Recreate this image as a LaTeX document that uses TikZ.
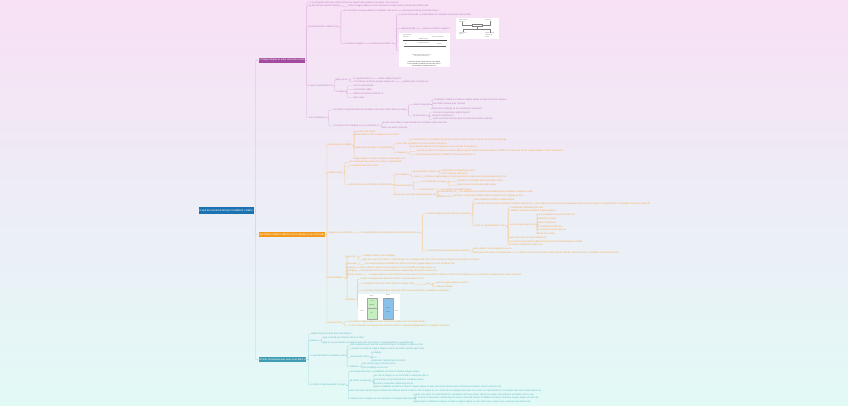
\documentclass[tikz,border=0pt]{standalone}
\usepackage{fontspec}
\setmainfont{Liberation Sans}
\usepackage{xstring}
\definecolor{bgtop}{HTML}{F8E0F5}
\definecolor{bgmid}{HTML}{EFEFF6}
\definecolor{bgbot}{HTML}{E2FAF6}
\definecolor{rootc}{HTML}{1B72B2}
\definecolor{purc}{HTML}{A24B9E}
\definecolor{orac}{HTML}{F39A1B}
\definecolor{tealc}{HTML}{3F9DB3}
\definecolor{purt}{HTML}{BC7FBC}
\definecolor{purl}{HTML}{DDB0DD}
\definecolor{orat}{HTML}{F2AC55}
\definecolor{oral}{HTML}{F6CD98}
\definecolor{tealt}{HTML}{63B9C4}
\definecolor{teall}{HTML}{A3DAE0}
\definecolor{imgreen}{HTML}{C6EFC0}
\definecolor{imblue}{HTML}{8BC1E8}
\def\lorem{lorem ipsum dolor sit amet consectetur adipiscing elit sed do eiusmod tempor incididunt ut labore et dolore magna aliqua ut enim ad minim veniam quis nostrud exercitation ullamco laboris nisi ut aliquip ex ea commodo consequat duis aute irure dolor in reprehenderit in voluptate velit esse cillum dolore eu fugiat nulla pariatur excepteur sint occaecat cupidatat non proident sunt in culpa qui officia deserunt mollit anim id est laborum}
\newcount\loff
\newcommand\ft[1]{\pgfmathtruncatemacro\nch{max(2,#1/1.0)}\global\advance\loff 53\relax\ifnum\loff>270 \global\advance\loff -270\relax\fi\StrMid{\lorem}{\the\loff}{\the\numexpr\loff+\nch-1\relax}}
\tikzset{
 tx/.style={anchor=west, inner sep=0.3pt, font=\fontsize{2.4}{2.8}\selectfont},
 ln/.style={line width=0.35pt, rounded corners=0.8pt},
 brn/.style={anchor=west, inner sep=0pt, text=white, font=\fontsize{2.6}{3}\selectfont, minimum height=5.2pt},
 imgbox/.style={fill=white, inner sep=0pt, anchor=north west},
 imt/.style={inner sep=0pt, font=\fontsize{1.5}{1.8}\selectfont, text=black!55},
}
\newcommand\T[4]{\node[tx] (#1) at (#2,#3) {\ft{#4}};}
\newcommand\C[2]{\foreach \cc in {#2}{\draw[ln] (#1.east) -- ++(2,0) |- (\cc.west);}}
\begin{document}
\begin{tikzpicture}[x=1pt,y=-1pt]
\useasboundingbox (0,0) rectangle (848,406);
\shade[top color=bgtop, middle color=bgmid, bottom color=bgbot] (0,0) rectangle (848,406);

% root and branches
\node[brn, fill=rootc, minimum width=55pt, minimum height=6.6pt, font=\fontsize{2.8}{3.2}\selectfont] (R) at (198.3,210.7) {\ft{43}};
\node[brn, fill=purc, minimum width=45pt] (P) at (258.3,60.3) {\ft{38}};
\node[brn, fill=orac, minimum width=65pt] (O) at (258.3,234.8) {\ft{58}};
\node[brn, fill=tealc, minimum width=46pt] (T) at (258.3,359.8) {\ft{40}};
\draw[ln, draw=purl] (R.east) -- ++(2,0) |- (P.west);
\draw[ln, draw=oral] (R.east) -- ++(2,0) |- (O.west);
\draw[ln, draw=teall] (R.east) -- ++(2,0) |- (T.west);

% ---------------- purple branch
\begin{scope}[tx/.append style={text=purt}, ln/.append style={draw=purl}]
\T{p1}{310}{2.7}{87}
\T{p2}{308}{6.3}{29}
\T{p2x}{347}{6.3}{75}
\T{p3}{308}{27}{29}
\T{p3a}{343}{10.7}{17}
\T{p3ax}{367}{10.7}{30}
\T{p3ay}{402}{10.7}{33}
\T{p3b}{343}{44}{20}
\T{p3bx}{368}{44}{25}
\T{q1}{399}{14.7}{16}
\T{q1x}{422}{14.7}{48}
\T{q2}{399}{28.7}{18}
\T{q2x}{422}{28.7}{25}
\node[imgbox, minimum width=51pt, minimum height=34pt] (im2) at (399,33) {};
\node[imgbox, minimum width=43pt, minimum height=21pt] (im1) at (456,18) {};
\T{p4}{308}{86}{22}
\T{p4a}{335}{80}{12}
\T{p4ai}{353}{78.7}{19}
\T{p4aix}{378}{78.7}{24}
\T{p4aii}{353}{82}{40}
\T{p4aiix}{402}{82}{23}
\T{p4b}{335}{91.7}{10}
\T{p4bi}{353}{86}{19}
\T{p4bii}{353}{89.7}{17}
\T{p4biii}{353}{93.7}{29}
\T{p4biv}{353}{97.3}{10}
\T{p5}{308}{118}{19}
\T{p5a}{333}{110}{72}
\T{p5ai}{413}{104.7}{14}
\T{r1}{432}{100}{70}
\T{r2}{432}{104.3}{30}
\T{r3}{432}{108.7}{46}
\T{p5aii}{413}{116}{15}
\T{r4}{432}{112.7}{38}
\T{r5}{432}{116}{20}
\T{r6}{432}{119.3}{56}
\T{p5b}{333}{126}{43}
\T{r7}{382}{123.3}{66}
\T{r8}{382}{128}{23}
\C{P}{p1,p2,p3,p4,p5}
\C{p2}{p2x}
\C{p3}{p3a,p3b}
\C{p3a}{p3ax}
\C{p3ax}{p3ay}
\C{p3b}{p3bx}
\C{p3bx}{q1,q2,im2}
\C{q1}{q1x}
\C{q2}{q2x}
\C{p4}{p4a,p4b}
\C{p4a}{p4ai,p4aii}
\C{p4ai}{p4aix}
\C{p4aii}{p4aiix}
\C{p4b}{p4bi,p4bii,p4biii,p4biv}
\C{p5}{p5a,p5b}
\C{p5a}{p5ai,p5aii}
\C{p5ai}{r1,r2,r3}
\C{p5aii}{r4,r5,r6}
\C{p5b}{r7,r8}
\end{scope}

% image 1 contents
\node[imt, anchor=west] (i1a) at (459,19.8) {lorem ipsum};
\node[imt, anchor=west] (i1b) at (459,21.6) {dolor sit};
\node[imt, anchor=west] (i1c) at (485,20) {amet elit};
\node[imt, draw=black!50, line width=0.2pt, inner sep=0.5pt] (i1d) at (477,25) {sed do tempor};
\node[imt, anchor=west] (i1e) at (459,32.5) {ut labore et};
\node[imt, anchor=west] (i1f) at (459,34.3) {dolore};
\node[imt, anchor=west] (i1g) at (485,33.5) {magna aliqua};
\node[imt, anchor=west] (i1h) at (485,35.3) {ut enim ad};
\node[imt, anchor=west] (i1i) at (485,37.1) {minim};
\draw[black!50, line width=0.2pt] (i1b.south) |- (i1d.west);
\draw[black!50, line width=0.2pt] (i1d.east) -| (490,21.5);
\draw[black!50, line width=0.2pt] (i1d.south) -- ++(0,2.5) -| (i1e.north);
\draw[black!50, line width=0.2pt] (i1d.south) ++(0,2.5) -| (i1g.north);

% image 2 contents
\node[imt, anchor=west] (i2a) at (403,35.3) {lorem ipsum};
\node[imt, anchor=west] (i2b) at (403,37.3) {dolor sit};
\node[imt, anchor=west] (i2c) at (432,37.5) {amet consectetur};
\node[imt] (i2d) at (423.5,38.7) {adipiscing elit};
\draw[black!75, line width=0.5pt] (403,40.7) -- (447,40.7);
\node[imt] (i2e) at (423.5,43.3) {sed do eiusmod};
\node[imt, anchor=west] (i2f) at (405,44.3) {ut};
\node[imt, anchor=west] (i2g) at (437,44.3) {labore};
\draw[black!60, line width=0.3pt] (404,45.7) -- (446,45.7);
\node[imt] (i2h) at (421.5,54.7) {dolore magna aliqua ut enim};
\node[imt] (i2i) at (421.5,56.6) {ad minim veniam quis};
\node[imt, text=black!85] (i2j) at (424,62.2) {nostrud exercitation ullamco laboris nisi ut aliquip};
\node[imt, text=black!85] (i2k) at (424,64) {ex ea commodo consequat duis aute irure dolor in};
\node[imt, text=black!85] (i2l) at (424,65.8) {reprehenderit in voluptate velit esse};

% ---------------- orange branch
\begin{scope}[tx/.append style={text=orat}, ln/.append style={draw=oral}]
\T{o1}{327}{145.3}{21}
\T{o1a}{353}{132}{20}
\T{o1b}{353}{135.3}{43}
\T{o1c}{353}{148}{37}
\T{o1ci}{396}{143.7}{9}
\T{s1}{410}{139.7}{87}
\T{s2}{410}{143.7}{33}
\T{s3}{410}{147.3}{62}
\T{o1cii}{396}{153}{9}
\T{s4}{416}{151.3}{137}
\T{s5}{416}{154.7}{54}
\T{o1d}{353}{158.7}{45}
\T{o2}{327}{173}{15}
\T{o2a}{349}{162.3}{49}
\T{o2b}{349}{166.3}{29}
\T{o2c}{349}{184.7}{40}
\T{u1}{394}{175.3}{13}
\T{u1a}{413}{171.3}{22}
\T{u1ai}{441}{170.7}{29}
\T{u1aii}{441}{174}{27}
\T{u1b}{413}{177.3}{7}
\T{u1bx}{424}{177.3}{76}
\T{u2}{394}{185.3}{16}
\T{u2a}{420}{182}{20}
\T{u2ai}{457}{181.3}{45}
\T{u2aii}{457}{185.3}{37}
\T{u2b}{420}{189.3}{13}
\T{u2bx}{440}{189.3}{30}
\T{u3}{394}{194.7}{36}
\T{u3a}{436}{192.3}{19}
\T{u3ax}{460}{192.3}{70}
\T{u3b}{436}{196.3}{14}
\T{u3bx}{453}{196.3}{69}
\T{o3}{327}{233}{22}
\T{o3x}{360}{233}{60}
\T{v1}{426}{214}{42}
\T{v1a}{474}{199.7}{38}
\T{v1b}{474}{204}{56}
\T{v1bx}{535}{204}{110}
\T{v1c}{474}{226.3}{31}
\T{w1}{509}{208}{33}
\T{w2}{509}{211.3}{44}
\T{w3}{509}{224.7}{23}
\T{z1}{536}{215.3}{36}
\T{z2}{536}{219}{20}
\T{z3}{536}{223}{18}
\T{z4}{536}{226.7}{26}
\T{z5}{536}{230.3}{26}
\T{z6}{536}{234}{20}
\T{w4}{509}{238}{36}
\T{w5}{509}{242}{69}
\T{w6}{509}{245.3}{32}
\T{v2}{426}{251.3}{39}
\T{v2a}{473}{248.7}{37}
\T{v2b}{473}{252.7}{37}
\T{v2bx}{517}{252.7}{98}
\T{o4}{327}{278.3}{15}
\T{o4a}{345}{257.3}{10}
\T{o4ai}{362}{256}{33}
\T{o4aii}{362}{260}{116}
\T{o4b}{345}{264.3}{10}
\T{o4bx}{364}{264.3}{83}
\T{o4c}{345}{267.7}{10}
\T{o4cx}{360}{267.7}{70}
\T{o4d}{345}{271.3}{10}
\T{o4dx}{360}{271.3}{72}
\T{o4e}{345}{275}{15}
\T{o4ex}{368}{275}{142}
\T{o4f}{345}{299.3}{10}
\T{o4fi}{360}{279.3}{60}
\T{o4fii}{360}{284.3}{55}
\T{o4fiix}{425}{284.3}{5}
\T{o4fiia}{436}{283.3}{29}
\T{o4fiib}{436}{286.7}{16}
\T{o4fiii}{360}{290.7}{65}
\T{o4fiiix}{430}{290.7}{20}
\node[imgbox, minimum width=42pt, minimum height=26pt] (im3) at (358,294) {};
\T{o5}{327}{323.3}{15}
\T{o5a}{348}{321.7}{62}
\T{o5ax}{415}{321.7}{10}
\T{o5b}{348}{326}{62}
\T{o5bx}{415}{326}{35}
\C{O}{o1,o2,o3,o4,o5}
\C{o1}{o1a,o1b,o1c,o1d}
\C{o1c}{o1ci,o1cii}
\C{o1ci}{s1,s2,s3}
\C{o1cii}{s4,s5}
\C{o2}{o2a,o2b,o2c}
\C{o2c}{u1,u2,u3}
\C{u1}{u1a,u1b}
\C{u1a}{u1ai,u1aii}
\C{u1b}{u1bx}
\C{u2}{u2a,u2b}
\C{u2a}{u2ai,u2aii}
\C{u2b}{u2bx}
\C{u3}{u3a,u3b}
\C{u3a}{u3ax}
\C{u3b}{u3bx}
\C{o3}{o3x}
\C{o3x}{v1,v2}
\C{v1}{v1a,v1b,v1c}
\C{v1b}{v1bx}
\C{v1c}{w1,w2,w3,w4,w5,w6}
\C{w3}{z1,z2,z3,z4,z5,z6}
\C{v2}{v2a,v2b}
\C{v2b}{v2bx}
\C{o4}{o4a,o4b,o4c,o4d,o4e,o4f}
\C{o4a}{o4ai,o4aii}
\C{o4b}{o4bx}
\C{o4c}{o4cx}
\C{o4d}{o4dx}
\C{o4e}{o4ex}
\C{o4f}{o4fi,o4fii,o4fiii,im3}
\C{o4fii}{o4fiix}
\C{o4fiix}{o4fiia,o4fiib}
\C{o4fiii}{o4fiiix}
\C{o5}{o5a,o5b}
\C{o5a}{o5ax}
\C{o5b}{o5bx}
\end{scope}

% image 3 contents
\filldraw[fill=imgreen, draw=black!35, line width=0.25pt] (366.7,297.7) rectangle (376.7,319.3);
\draw[black!35, line width=0.25pt] (366.7,308) -- (376.7,308);
\filldraw[fill=imblue, draw=black!35, line width=0.25pt] (382.7,297.7) rectangle (393.3,319.3);
\node[imt] (i3a) at (371.7,295.6) {lorem};
\node[imt] (i3b) at (388,295.6) {ipsum};
\node[imt] (i3c) at (362.3,310.7) {dolor};
\node[imt] (i3d) at (396.5,310.7) {amet};
\node[imt, text=black!70] (i3e) at (371.7,301.3) {sit};
\node[imt, text=black!70] (i3f) at (371.7,305.3) {elit sed};
\node[imt, text=black!70] (i3g) at (371.7,312.7) {do};
\node[imt, text=tealc!80!black] (i3h) at (388,299.5) {tempor ut};
\node[imt, text=tealc!80!black] (i3i) at (388,308.3) {labore};
\node[imt, text=tealc!80!black] (i3j) at (388,312.3) {dolore};

% ---------------- teal branch
\begin{scope}[tx/.append style={text=tealt}, ln/.append style={draw=teall}]
\T{t1}{310}{334}{40}
\T{t2}{310}{340.3}{8}
\T{t2a}{322}{338}{40}
\T{t2b}{322}{342.7}{86}
\T{t3}{310}{355.7}{35}
\T{t3a}{350}{345.3}{70}
\T{t3b}{350}{349.3}{68}
\T{t3c}{350}{357.3}{17}
\T{t3ci}{371}{353}{11}
\T{t3cii}{371}{357.3}{6}
\T{t3ciii}{371}{361.3}{34}
\T{t3d}{350}{366.7}{8}
\T{t3di}{362}{364}{30}
\T{t3dii}{362}{368.3}{25}
\T{t4}{310}{385.3}{35}
\T{t4a}{349}{372}{19}
\T{t4ax}{373}{372}{44}
\T{t4b}{349}{381.3}{19}
\T{t4bi}{373}{375.7}{51}
\T{t4bii}{373}{379.7}{51}
\T{t4biii}{373}{383.7}{39}
\T{t4biv}{373}{387.3}{120}
\T{t4c}{349}{390.7}{183}
\T{t4d}{349}{398.7}{59}
\T{t4di}{413}{394.7}{119}
\T{t4dii}{413}{398.3}{118}
\T{t4diii}{413}{402}{109}
\C{T}{t1,t2,t3,t4}
\C{t2}{t2a,t2b}
\C{t3}{t3a,t3b,t3c,t3d}
\C{t3c}{t3ci,t3cii,t3ciii}
\C{t3d}{t3di,t3dii}
\C{t4}{t4a,t4b,t4c,t4d}
\C{t4a}{t4ax}
\C{t4b}{t4bi,t4bii,t4biii,t4biv}
\C{t4d}{t4di,t4dii,t4diii}
\end{scope}
\end{tikzpicture}
\end{document}
